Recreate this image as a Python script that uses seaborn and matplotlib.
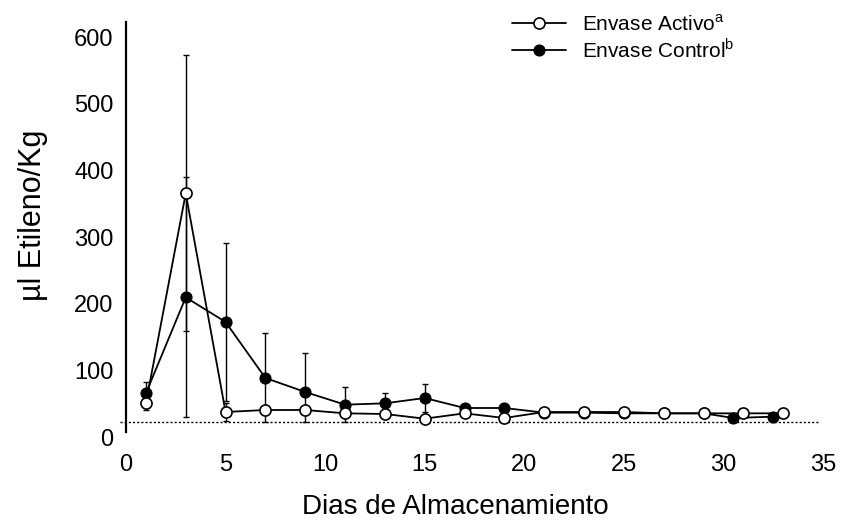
import numpy as np
import pandas as pd
import matplotlib
matplotlib.use("Agg")
import matplotlib.pyplot as plt
import matplotlib.transforms as mtransforms
import seaborn as sns

# Storage days and ethylene per kg for both packages
dias_activo = [1, 3, 5, 7, 9, 11, 13, 15, 17, 19, 21, 23, 25, 27, 29, 31, 33]
etileno_activo = [28, 343, 15, 18, 18, 13, 12, 5, 13, 6, 15, 15, 15, 13, 13, 13, 13]
sd_activo = [10, 207, 13, 0, 0, 0, 0, 0, 0, 0, 0, 0, 0, 0, 0, 0, 0]

dias_control = [1, 3, 5, 7, 9, 11, 13, 15, 17, 19, 21, 23, 25, 27, 29, 30.5, 32.5]
etileno_control = [43, 187, 150, 66, 45, 26, 28, 36, 21, 21, 14, 14, 13, 13, 13, 6, 8]
sd_control = [17, 180, 118, 67, 58, 27, 16, 21, 0, 0, 0, 0, 0, 0, 0, 0, 0]

x_ticks = [0, 5, 10, 15, 20, 25, 30, 35]
y_ticks = [0, 100, 200, 300, 400, 500, 600]

sns.set_style("white")
plt.rcParams["font.family"] = ["Liberation Sans", "DejaVu Sans"]
plt.rcParams["mathtext.fontset"] = "custom"
plt.rcParams["mathtext.rm"] = "Liberation Sans"
plt.rcParams["text.color"] = "black"
plt.rcParams["axes.labelcolor"] = "black"
plt.rcParams["xtick.color"] = "black"
plt.rcParams["ytick.color"] = "black"

df_a = pd.DataFrame({"dia": dias_activo, "etileno": etileno_activo, "sd": sd_activo})
df_c = pd.DataFrame({"dia": dias_control, "etileno": etileno_control, "sd": sd_control})

fig = plt.figure(figsize=(8.43, 5.2), dpi=100)
ax = fig.add_axes([126 / 843, 1 - 432 / 520, 697 / 843, 410 / 520])

# error bars (lower arm stops at zero)
for d in (df_c, df_a):
    lower = np.minimum(d["sd"], d["etileno"])
    ax.errorbar(d["dia"], d["etileno"], yerr=[lower, d["sd"]], fmt="none",
                ecolor="black", elinewidth=1.0, capsize=2, capthick=1.0, zorder=2)

sns.lineplot(data=df_c, x="dia", y="etileno", ax=ax, color="black", lw=1.3,
             marker="o", markersize=8, markerfacecolor="black",
             markeredgecolor="black", label=r"Envase Control$^{\mathrm{b}}$", zorder=3)
sns.lineplot(data=df_a, x="dia", y="etileno", ax=ax, color="black", lw=1.3,
             marker="o", markersize=8, markerfacecolor="white",
             markeredgecolor="black", markeredgewidth=1.2,
             label=r"Envase Activo$^{\mathrm{a}}$", zorder=4)

# dotted zero line acting as the x axis
ax.hlines(0, -0.3, 34.8, colors="black", linestyles=(0, (1.5, 1.5)), lw=1.0,
          clip_on=False, zorder=1)

ax.set_xlim(0, 35)
ax.set_ylim(-15, 600)
ax.set_xticks(x_ticks)
ax.set_yticks(y_ticks)
ax.tick_params(axis="x", length=0, pad=16, labelsize=17, labelcolor="black")
ax.tick_params(axis="y", length=3, width=0.8, direction="out", pad=6,
               labelsize=17, labelcolor="black", color="black")

for s in ("top", "right", "bottom"):
    ax.spines[s].set_visible(False)
ax.spines["left"].set_linewidth(1.6)
ax.spines["left"].set_color("black")

off = mtransforms.ScaledTranslation(0, -15 / 100, fig.dpi_scale_trans)
for lab in ax.get_yticklabels():
    lab.set_transform(lab.get_transform() + off)

ax.set_xlabel("Dias de Almacenamiento", fontsize=20, va="center", color="black")
ax.xaxis.set_label_coords(0.472, -0.183)
ax.set_ylabel("µl Etileno/Kg", fontsize=22, va="center", color="black")
ax.yaxis.set_label_coords(-0.133, 0.529)

handles, labels = ax.get_legend_handles_labels()
order = [labels.index(r"Envase Activo$^{\mathrm{a}}$"), labels.index(r"Envase Control$^{\mathrm{b}}$")]
leg = ax.legend([handles[i] for i in order], [labels[i] for i in order],
                loc="upper left", bbox_to_anchor=(512 / 843, 1 - 14 / 520),
                bbox_transform=fig.transFigure, frameon=False, fontsize=15,
                borderpad=0, borderaxespad=0, handlelength=2.6, handletextpad=0.75,
                labelspacing=0.12)
for t in leg.get_texts():
    t.set_color("black")

fig.savefig("out.png", dpi=100)
